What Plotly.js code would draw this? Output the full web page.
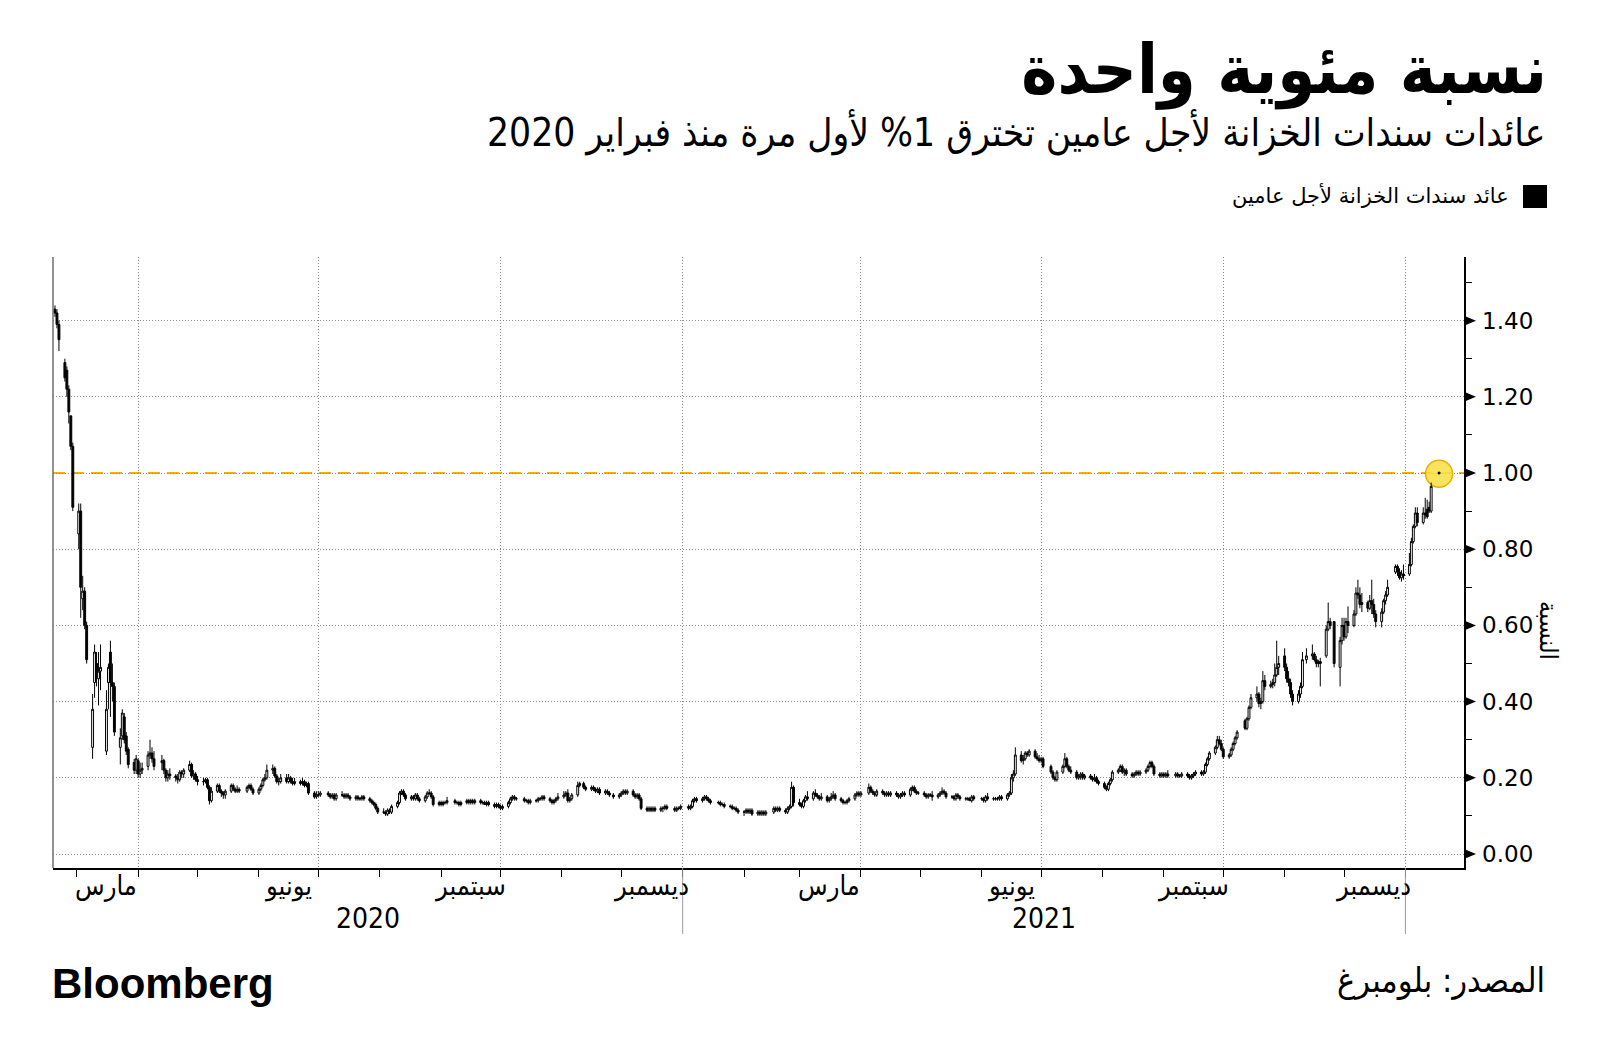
<!DOCTYPE html>
<html><head><meta charset="utf-8">
<script src="https://cdn.plot.ly/plotly-3.0.1.min.js"></script>
<style>html,body{margin:0;padding:0;background:#fff;}#chart{width:1600px;height:1061px;}</style>
</head><body><div id="chart"></div>
<script>
// ---------- DATA ----------
const dates = [
"2020-02-19","2020-02-20","2020-02-21","2020-02-24","2020-02-25","2020-02-26","2020-02-27","2020-02-28",
"2020-03-02","2020-03-03","2020-03-04","2020-03-05","2020-03-06","2020-03-09","2020-03-10","2020-03-11","2020-03-12","2020-03-13","2020-03-16","2020-03-17","2020-03-18","2020-03-19","2020-03-20","2020-03-23","2020-03-24","2020-03-25","2020-03-26","2020-03-27","2020-03-30","2020-03-31",
"2020-04-01","2020-04-02","2020-04-03","2020-04-06","2020-04-07","2020-04-08","2020-04-09","2020-04-13","2020-04-14","2020-04-15","2020-04-16","2020-04-17","2020-04-20","2020-04-21","2020-04-22","2020-04-23","2020-04-24","2020-04-27","2020-04-28","2020-04-29","2020-04-30",
"2020-05-01","2020-05-04","2020-05-05","2020-05-06","2020-05-07","2020-05-08","2020-05-11","2020-05-12","2020-05-13","2020-05-14","2020-05-15","2020-05-18","2020-05-19","2020-05-20","2020-05-21","2020-05-22","2020-05-26","2020-05-27","2020-05-28","2020-05-29",
"2020-06-01","2020-06-02","2020-06-03","2020-06-04","2020-06-05","2020-06-08","2020-06-09","2020-06-10","2020-06-11","2020-06-12","2020-06-15","2020-06-16","2020-06-17","2020-06-18","2020-06-19","2020-06-22","2020-06-23","2020-06-24","2020-06-25","2020-06-26","2020-06-29","2020-06-30",
"2020-07-01","2020-07-02","2020-07-06","2020-07-07","2020-07-08","2020-07-09","2020-07-10","2020-07-13","2020-07-14","2020-07-15","2020-07-16","2020-07-17","2020-07-20","2020-07-21","2020-07-22","2020-07-23","2020-07-24","2020-07-27","2020-07-28","2020-07-29","2020-07-30","2020-07-31",
"2020-08-03","2020-08-04","2020-08-05","2020-08-06","2020-08-07","2020-08-10","2020-08-11","2020-08-12","2020-08-13","2020-08-14","2020-08-17","2020-08-18","2020-08-19","2020-08-20","2020-08-21","2020-08-24","2020-08-25","2020-08-26","2020-08-27","2020-08-28","2020-08-31",
"2020-09-01","2020-09-02","2020-09-03","2020-09-04","2020-09-08","2020-09-09","2020-09-10","2020-09-11","2020-09-14","2020-09-15","2020-09-16","2020-09-17","2020-09-18","2020-09-21","2020-09-22","2020-09-23","2020-09-24","2020-09-25","2020-09-28","2020-09-29","2020-09-30",
"2020-10-01","2020-10-02","2020-10-05","2020-10-06","2020-10-07","2020-10-08","2020-10-09","2020-10-13","2020-10-14","2020-10-15","2020-10-16","2020-10-19","2020-10-20","2020-10-21","2020-10-22","2020-10-23","2020-10-26","2020-10-27","2020-10-28","2020-10-29","2020-10-30",
"2020-11-02","2020-11-03","2020-11-04","2020-11-05","2020-11-06","2020-11-09","2020-11-10","2020-11-12","2020-11-13","2020-11-16","2020-11-17","2020-11-18","2020-11-19","2020-11-20","2020-11-23","2020-11-24","2020-11-25","2020-11-27","2020-11-30",
"2020-12-01","2020-12-02","2020-12-03","2020-12-04","2020-12-07","2020-12-08","2020-12-09","2020-12-10","2020-12-11","2020-12-14","2020-12-15","2020-12-16","2020-12-17","2020-12-18","2020-12-21","2020-12-22","2020-12-23","2020-12-24","2020-12-28","2020-12-29","2020-12-30","2020-12-31",
"2021-01-04","2021-01-05","2021-01-06","2021-01-07","2021-01-08","2021-01-11","2021-01-12","2021-01-13","2021-01-14","2021-01-15","2021-01-19","2021-01-20","2021-01-21","2021-01-22","2021-01-25","2021-01-26","2021-01-27","2021-01-28","2021-01-29",
"2021-02-01","2021-02-02","2021-02-03","2021-02-04","2021-02-05","2021-02-08","2021-02-09","2021-02-10","2021-02-11","2021-02-12","2021-02-16","2021-02-17","2021-02-18","2021-02-19","2021-02-22","2021-02-23","2021-02-24","2021-02-25","2021-02-26",
"2021-03-01","2021-03-02","2021-03-03","2021-03-04","2021-03-05","2021-03-08","2021-03-09","2021-03-10","2021-03-11","2021-03-12","2021-03-15","2021-03-16","2021-03-17","2021-03-18","2021-03-19","2021-03-22","2021-03-23","2021-03-24","2021-03-25","2021-03-26","2021-03-29","2021-03-30","2021-03-31",
"2021-04-01","2021-04-05","2021-04-06","2021-04-07","2021-04-08","2021-04-09","2021-04-12","2021-04-13","2021-04-14","2021-04-15","2021-04-16","2021-04-19","2021-04-20","2021-04-21","2021-04-22","2021-04-23","2021-04-26","2021-04-27","2021-04-28","2021-04-29","2021-04-30",
"2021-05-03","2021-05-04","2021-05-05","2021-05-06","2021-05-07","2021-05-10","2021-05-11","2021-05-12","2021-05-13","2021-05-14","2021-05-17","2021-05-18","2021-05-19","2021-05-20","2021-05-21","2021-05-24","2021-05-25","2021-05-26","2021-05-27","2021-05-28",
"2021-06-01","2021-06-02","2021-06-03","2021-06-04","2021-06-07","2021-06-08","2021-06-09","2021-06-10","2021-06-11","2021-06-14","2021-06-15","2021-06-16","2021-06-17","2021-06-18","2021-06-21","2021-06-22","2021-06-23","2021-06-24","2021-06-25","2021-06-28","2021-06-29","2021-06-30",
"2021-07-01","2021-07-02","2021-07-06","2021-07-07","2021-07-08","2021-07-09","2021-07-12","2021-07-13","2021-07-14","2021-07-15","2021-07-16","2021-07-19","2021-07-20","2021-07-21","2021-07-22","2021-07-23","2021-07-26","2021-07-27","2021-07-28","2021-07-29","2021-07-30",
"2021-08-02","2021-08-03","2021-08-04","2021-08-05","2021-08-06","2021-08-09","2021-08-10","2021-08-11","2021-08-12","2021-08-13","2021-08-16","2021-08-17","2021-08-18","2021-08-19","2021-08-20","2021-08-23","2021-08-24","2021-08-25","2021-08-26","2021-08-27","2021-08-30","2021-08-31",
"2021-09-01","2021-09-02","2021-09-03","2021-09-07","2021-09-08","2021-09-09","2021-09-10","2021-09-13","2021-09-14","2021-09-15","2021-09-16","2021-09-17","2021-09-20","2021-09-21","2021-09-22","2021-09-23","2021-09-24","2021-09-27","2021-09-28","2021-09-29","2021-09-30",
"2021-10-01","2021-10-04","2021-10-05","2021-10-06","2021-10-07","2021-10-08","2021-10-12","2021-10-13","2021-10-14","2021-10-15","2021-10-18","2021-10-19","2021-10-20","2021-10-21","2021-10-22","2021-10-25","2021-10-26","2021-10-27","2021-10-28","2021-10-29",
"2021-11-01","2021-11-02","2021-11-03","2021-11-04","2021-11-05","2021-11-08","2021-11-09","2021-11-10","2021-11-12","2021-11-15","2021-11-16","2021-11-17","2021-11-18","2021-11-19","2021-11-22","2021-11-23","2021-11-24","2021-11-26","2021-11-29","2021-11-30",
"2021-12-01","2021-12-02","2021-12-03","2021-12-06","2021-12-07","2021-12-08","2021-12-09","2021-12-10","2021-12-13","2021-12-14","2021-12-15","2021-12-16","2021-12-17","2021-12-20","2021-12-21","2021-12-22","2021-12-23","2021-12-27","2021-12-28","2021-12-29","2021-12-30","2021-12-31",
"2022-01-03","2022-01-04","2022-01-05","2022-01-06","2022-01-07","2022-01-10","2022-01-11","2022-01-12","2022-01-13","2022-01-14","2022-01-18"
];
const open = [
1.43,1.42,1.39,1.29,1.27,1.22,1.15,1.07,
0.84,0.90,0.67,0.69,0.60,0.28,0.45,0.50,0.46,0.48,0.27,0.45,0.53,0.45,0.44,0.28,0.31,0.36,0.31,0.275,0.24,0.22,
0.245,0.21,0.22,0.23,0.26,0.265,0.25,0.24,0.245,0.22,0.20,0.21,0.205,0.20,0.195,0.215,0.21,0.22,0.235,0.205,0.21,
0.195,0.19,0.19,0.195,0.175,0.14,0.165,0.18,0.165,0.16,0.155,0.165,0.18,0.17,0.165,0.17,0.165,0.175,0.18,0.17,
0.16,0.17,0.18,0.195,0.20,0.22,0.225,0.205,0.19,0.19,0.20,0.19,0.20,0.19,0.185,0.19,0.185,0.19,0.18,0.185,0.16,0.15,
0.155,0.155,0.16,0.155,0.15,0.155,0.145,0.155,0.155,0.15,0.155,0.15,0.145,0.15,0.145,0.145,0.15,0.145,0.14,0.135,0.13,0.12,
0.11,0.11,0.105,0.115,0.11,0.125,0.135,0.16,0.165,0.155,0.145,0.15,0.145,0.155,0.145,0.14,0.15,0.16,0.16,0.15,0.13,
0.135,0.13,0.135,0.135,0.14,0.135,0.135,0.13,0.135,0.14,0.135,0.14,0.135,0.14,0.135,0.135,0.13,0.135,0.13,0.125,0.13,
0.125,0.12,0.125,0.135,0.145,0.15,0.145,0.145,0.14,0.14,0.135,0.14,0.14,0.145,0.145,0.15,0.145,0.14,0.135,0.14,0.145,
0.15,0.155,0.16,0.14,0.145,0.155,0.18,0.185,0.175,0.17,0.175,0.17,0.165,0.17,0.16,0.165,0.16,0.155,0.15,
0.155,0.16,0.165,0.16,0.165,0.155,0.15,0.155,0.145,0.12,0.115,0.12,0.115,0.12,0.115,0.12,0.12,0.125,0.12,0.115,0.12,0.12,
0.125,0.12,0.125,0.14,0.145,0.14,0.145,0.15,0.145,0.14,0.135,0.135,0.13,0.13,0.125,0.125,0.12,0.12,0.115,
0.11,0.11,0.115,0.11,0.115,0.105,0.11,0.105,0.11,0.105,0.11,0.12,0.115,0.12,0.115,0.11,0.12,0.125,0.175,
0.135,0.13,0.125,0.14,0.15,0.145,0.16,0.155,0.15,0.145,0.15,0.14,0.145,0.15,0.155,0.145,0.14,0.135,0.135,0.14,0.145,0.155,0.16,
0.155,0.16,0.175,0.165,0.16,0.155,0.165,0.16,0.155,0.16,0.155,0.16,0.155,0.15,0.155,0.16,0.155,0.17,0.175,0.165,0.16,
0.16,0.155,0.15,0.155,0.155,0.15,0.155,0.16,0.165,0.16,0.15,0.15,0.145,0.155,0.15,0.145,0.145,0.145,0.14,0.15,
0.145,0.145,0.14,0.15,0.145,0.145,0.145,0.145,0.15,0.145,0.155,0.16,0.20,0.21,0.26,0.245,0.25,0.265,0.26,0.27,0.255,0.25,
0.245,0.25,0.23,0.215,0.20,0.195,0.215,0.23,0.25,0.23,0.22,0.215,0.20,0.205,0.21,0.20,0.205,0.20,0.195,0.20,0.19,
0.185,0.175,0.17,0.185,0.195,0.215,0.22,0.23,0.215,0.22,0.21,0.205,0.21,0.215,0.21,0.215,0.22,0.23,0.24,0.23,0.21,0.205,
0.21,0.205,0.21,0.205,0.21,0.205,0.205,0.21,0.205,0.20,0.205,0.21,0.215,0.21,0.215,0.235,0.25,0.265,0.28,0.30,0.29,
0.275,0.255,0.26,0.275,0.29,0.305,0.35,0.33,0.355,0.385,0.41,0.42,0.395,0.40,0.455,0.44,0.445,0.45,0.47,0.49,
0.52,0.49,0.46,0.45,0.42,0.40,0.42,0.44,0.51,0.52,0.525,0.51,0.50,0.505,0.52,0.59,0.61,0.61,0.49,0.56,
0.60,0.57,0.61,0.60,0.63,0.685,0.68,0.655,0.66,0.645,0.665,0.655,0.63,0.61,0.635,0.665,0.68,0.74,0.755,0.74,0.725,0.735,
0.735,0.76,0.82,0.86,0.895,0.87,0.895,0.905,0.91,0.90,1.002
];
const high = [
1.44,1.43,1.40,1.30,1.28,1.23,1.15,1.08,
0.92,0.92,0.73,0.70,0.61,0.42,0.55,0.53,0.53,0.55,0.43,0.50,0.56,0.50,0.45,0.33,0.38,0.37,0.32,0.28,0.25,0.26,
0.25,0.24,0.24,0.27,0.30,0.28,0.27,0.26,0.25,0.225,0.22,0.225,0.21,0.21,0.22,0.22,0.225,0.245,0.24,0.22,0.215,
0.205,0.20,0.20,0.20,0.18,0.175,0.185,0.185,0.17,0.165,0.17,0.185,0.185,0.175,0.18,0.175,0.18,0.185,0.185,0.175,
0.175,0.185,0.20,0.21,0.235,0.235,0.23,0.21,0.20,0.21,0.21,0.21,0.205,0.20,0.20,0.195,0.20,0.195,0.19,0.19,0.165,0.165,
0.165,0.165,0.165,0.16,0.16,0.16,0.16,0.165,0.16,0.16,0.16,0.155,0.155,0.155,0.15,0.155,0.155,0.15,0.145,0.14,0.135,0.125,
0.12,0.115,0.12,0.12,0.13,0.14,0.165,0.17,0.17,0.16,0.155,0.155,0.16,0.16,0.15,0.155,0.165,0.17,0.165,0.155,0.14,
0.14,0.14,0.14,0.15,0.145,0.14,0.14,0.14,0.145,0.145,0.145,0.145,0.145,0.145,0.14,0.14,0.14,0.14,0.135,0.135,0.135,
0.13,0.13,0.14,0.15,0.155,0.155,0.15,0.15,0.145,0.145,0.145,0.145,0.15,0.15,0.155,0.155,0.15,0.145,0.145,0.15,0.16,
0.165,0.165,0.17,0.15,0.16,0.19,0.19,0.19,0.18,0.18,0.18,0.175,0.175,0.175,0.17,0.17,0.165,0.16,0.16,
0.165,0.17,0.17,0.17,0.17,0.16,0.16,0.16,0.15,0.125,0.125,0.125,0.125,0.125,0.125,0.125,0.13,0.13,0.125,0.125,0.125,0.13,
0.13,0.13,0.145,0.15,0.15,0.15,0.155,0.155,0.15,0.145,0.14,0.14,0.135,0.135,0.13,0.13,0.125,0.125,0.12,
0.115,0.12,0.12,0.12,0.12,0.115,0.115,0.115,0.115,0.115,0.125,0.125,0.125,0.125,0.12,0.125,0.13,0.19,0.18,
0.145,0.135,0.145,0.155,0.165,0.165,0.17,0.16,0.155,0.16,0.155,0.15,0.16,0.165,0.16,0.15,0.145,0.14,0.145,0.15,0.16,0.165,0.165,
0.165,0.185,0.18,0.17,0.165,0.17,0.17,0.165,0.165,0.165,0.165,0.165,0.16,0.16,0.165,0.165,0.175,0.18,0.18,0.17,0.165,
0.165,0.16,0.16,0.16,0.165,0.16,0.165,0.175,0.17,0.165,0.155,0.155,0.16,0.16,0.155,0.15,0.15,0.15,0.155,0.155,
0.15,0.15,0.155,0.16,0.15,0.15,0.15,0.155,0.155,0.16,0.165,0.21,0.22,0.28,0.27,0.26,0.27,0.27,0.275,0.275,0.265,0.26,
0.255,0.255,0.235,0.22,0.205,0.22,0.235,0.265,0.255,0.235,0.23,0.22,0.21,0.215,0.215,0.21,0.21,0.205,0.21,0.205,0.195,
0.19,0.18,0.19,0.20,0.22,0.225,0.235,0.235,0.225,0.225,0.215,0.215,0.22,0.22,0.22,0.225,0.235,0.245,0.245,0.235,0.215,0.215,
0.215,0.215,0.22,0.215,0.215,0.21,0.215,0.215,0.21,0.21,0.215,0.22,0.22,0.22,0.24,0.255,0.27,0.285,0.31,0.31,0.30,
0.28,0.265,0.28,0.295,0.31,0.325,0.355,0.36,0.39,0.42,0.44,0.425,0.41,0.48,0.47,0.455,0.46,0.50,0.56,0.52,
0.54,0.50,0.48,0.46,0.43,0.43,0.45,0.53,0.54,0.55,0.53,0.52,0.51,0.515,0.60,0.66,0.62,0.61,0.57,0.62,
0.62,0.62,0.65,0.64,0.70,0.72,0.70,0.685,0.665,0.68,0.72,0.67,0.64,0.645,0.67,0.69,0.72,0.76,0.76,0.75,0.745,0.76,
0.79,0.83,0.865,0.91,0.91,0.91,0.935,0.93,0.925,0.975,1.003
];
const low = [
1.41,1.38,1.32,1.24,1.20,1.13,1.06,0.90,
0.80,0.62,0.64,0.59,0.50,0.25,0.41,0.44,0.39,0.43,0.26,0.38,0.36,0.40,0.31,0.235,0.30,0.29,0.26,0.225,0.21,0.21,
0.20,0.20,0.21,0.22,0.25,0.24,0.22,0.22,0.21,0.19,0.19,0.195,0.19,0.185,0.19,0.20,0.20,0.215,0.20,0.195,0.19,
0.18,0.18,0.185,0.17,0.13,0.135,0.16,0.16,0.15,0.145,0.145,0.16,0.165,0.16,0.16,0.16,0.16,0.17,0.165,0.155,
0.155,0.165,0.175,0.19,0.195,0.21,0.20,0.185,0.18,0.185,0.185,0.185,0.185,0.18,0.18,0.18,0.18,0.175,0.175,0.155,0.145,0.145,
0.15,0.15,0.15,0.145,0.145,0.14,0.14,0.15,0.145,0.145,0.145,0.14,0.14,0.14,0.14,0.14,0.14,0.135,0.13,0.125,0.115,0.105,
0.105,0.10,0.10,0.105,0.105,0.12,0.13,0.155,0.15,0.14,0.14,0.14,0.14,0.14,0.135,0.135,0.145,0.155,0.145,0.125,0.125,
0.125,0.125,0.13,0.13,0.13,0.13,0.125,0.125,0.13,0.13,0.13,0.13,0.13,0.13,0.13,0.13,0.125,0.125,0.12,0.12,0.12,
0.115,0.115,0.12,0.13,0.14,0.14,0.14,0.135,0.135,0.13,0.13,0.135,0.135,0.14,0.14,0.14,0.135,0.13,0.13,0.135,0.14,
0.145,0.15,0.135,0.135,0.14,0.15,0.175,0.17,0.165,0.165,0.165,0.16,0.16,0.155,0.155,0.155,0.15,0.145,0.145,
0.15,0.155,0.155,0.155,0.15,0.145,0.145,0.14,0.115,0.11,0.11,0.11,0.11,0.11,0.11,0.11,0.115,0.115,0.11,0.11,0.115,0.115,
0.115,0.115,0.12,0.135,0.135,0.135,0.14,0.14,0.135,0.13,0.13,0.125,0.125,0.12,0.12,0.115,0.115,0.11,0.105,
0.10,0.105,0.105,0.105,0.10,0.10,0.10,0.10,0.10,0.10,0.105,0.11,0.11,0.11,0.105,0.105,0.115,0.12,0.125,
0.125,0.12,0.12,0.135,0.14,0.14,0.15,0.145,0.14,0.14,0.135,0.135,0.14,0.145,0.14,0.135,0.13,0.13,0.13,0.135,0.14,0.15,0.15,
0.15,0.155,0.16,0.155,0.15,0.15,0.155,0.15,0.15,0.15,0.15,0.15,0.145,0.145,0.15,0.15,0.15,0.165,0.16,0.155,0.155,
0.15,0.145,0.145,0.15,0.14,0.145,0.15,0.155,0.155,0.145,0.145,0.14,0.14,0.145,0.14,0.14,0.14,0.14,0.135,0.14,
0.14,0.135,0.135,0.14,0.14,0.14,0.14,0.14,0.14,0.14,0.15,0.155,0.19,0.205,0.24,0.235,0.245,0.255,0.255,0.25,0.245,0.24,
0.24,0.225,0.21,0.195,0.19,0.19,0.21,0.225,0.225,0.215,0.21,0.195,0.195,0.195,0.195,0.195,0.195,0.19,0.19,0.185,0.18,
0.17,0.165,0.165,0.18,0.19,0.21,0.215,0.21,0.205,0.205,0.20,0.20,0.205,0.205,0.205,0.21,0.215,0.225,0.225,0.205,0.20,0.20,
0.20,0.20,0.20,0.20,0.20,0.20,0.20,0.20,0.195,0.195,0.20,0.205,0.205,0.205,0.21,0.23,0.245,0.26,0.275,0.285,0.27,
0.25,0.25,0.255,0.27,0.285,0.30,0.325,0.325,0.35,0.38,0.40,0.385,0.38,0.395,0.43,0.435,0.435,0.44,0.465,0.47,
0.48,0.45,0.44,0.41,0.39,0.395,0.41,0.435,0.50,0.51,0.505,0.49,0.49,0.44,0.515,0.585,0.59,0.49,0.44,0.55,
0.56,0.565,0.58,0.595,0.625,0.67,0.645,0.635,0.635,0.64,0.63,0.62,0.595,0.595,0.63,0.655,0.675,0.735,0.73,0.72,0.715,0.72,
0.73,0.755,0.815,0.855,0.86,0.865,0.88,0.88,0.895,0.895,0.997
];
const close = [
1.42,1.39,1.35,1.25,1.22,1.16,1.07,0.91,
0.90,0.70,0.69,0.60,0.51,0.38,0.53,0.48,0.48,0.49,0.38,0.49,0.45,0.44,0.32,0.305,0.37,0.30,0.27,0.235,0.22,0.25,
0.21,0.22,0.225,0.26,0.265,0.25,0.23,0.245,0.22,0.20,0.21,0.205,0.20,0.195,0.215,0.21,0.22,0.235,0.205,0.21,0.195,
0.19,0.19,0.195,0.175,0.14,0.165,0.18,0.165,0.16,0.155,0.165,0.18,0.17,0.165,0.17,0.165,0.175,0.18,0.17,0.16,
0.17,0.18,0.195,0.20,0.22,0.225,0.205,0.19,0.19,0.20,0.19,0.20,0.19,0.185,0.19,0.185,0.19,0.18,0.185,0.16,0.15,0.155,
0.155,0.16,0.155,0.15,0.155,0.145,0.155,0.155,0.15,0.155,0.15,0.145,0.15,0.145,0.145,0.15,0.145,0.14,0.135,0.13,0.12,0.11,
0.11,0.105,0.115,0.11,0.125,0.135,0.16,0.165,0.155,0.145,0.15,0.145,0.155,0.145,0.14,0.15,0.16,0.16,0.15,0.13,0.135,
0.13,0.135,0.135,0.14,0.135,0.135,0.13,0.135,0.14,0.135,0.14,0.135,0.14,0.135,0.135,0.13,0.135,0.13,0.125,0.13,0.125,
0.12,0.125,0.135,0.145,0.15,0.145,0.145,0.14,0.14,0.135,0.14,0.14,0.145,0.145,0.15,0.145,0.14,0.135,0.14,0.145,0.15,
0.155,0.16,0.14,0.145,0.155,0.18,0.185,0.175,0.17,0.175,0.17,0.165,0.17,0.16,0.165,0.16,0.155,0.15,0.155,
0.16,0.165,0.16,0.165,0.155,0.15,0.155,0.145,0.12,0.115,0.12,0.115,0.12,0.115,0.12,0.12,0.125,0.12,0.115,0.12,0.12,0.125,
0.12,0.125,0.14,0.145,0.14,0.145,0.15,0.145,0.14,0.135,0.135,0.13,0.13,0.125,0.125,0.12,0.12,0.115,0.11,
0.11,0.115,0.11,0.115,0.105,0.11,0.105,0.11,0.105,0.11,0.12,0.115,0.12,0.115,0.11,0.12,0.125,0.175,0.135,
0.13,0.125,0.14,0.15,0.145,0.16,0.155,0.15,0.145,0.15,0.14,0.145,0.15,0.155,0.145,0.14,0.135,0.135,0.14,0.145,0.155,0.16,0.155,
0.16,0.175,0.165,0.16,0.155,0.165,0.16,0.155,0.16,0.155,0.16,0.155,0.15,0.155,0.16,0.155,0.17,0.175,0.165,0.16,0.16,
0.155,0.15,0.155,0.155,0.15,0.155,0.16,0.165,0.16,0.15,0.15,0.145,0.155,0.15,0.145,0.145,0.145,0.14,0.15,0.145,
0.145,0.14,0.15,0.145,0.145,0.145,0.145,0.15,0.145,0.155,0.16,0.20,0.21,0.26,0.245,0.25,0.265,0.26,0.27,0.255,0.25,0.245,
0.25,0.23,0.215,0.20,0.195,0.215,0.23,0.25,0.23,0.22,0.215,0.20,0.205,0.21,0.20,0.205,0.20,0.195,0.20,0.19,0.185,
0.175,0.17,0.185,0.195,0.215,0.22,0.23,0.215,0.22,0.21,0.205,0.21,0.215,0.21,0.215,0.22,0.23,0.24,0.23,0.21,0.205,0.21,
0.205,0.21,0.205,0.21,0.205,0.205,0.21,0.205,0.20,0.205,0.21,0.215,0.21,0.215,0.235,0.25,0.265,0.28,0.30,0.29,0.275,
0.255,0.26,0.275,0.29,0.305,0.32,0.33,0.355,0.385,0.41,0.42,0.395,0.40,0.455,0.44,0.445,0.45,0.47,0.49,0.50,
0.49,0.46,0.45,0.42,0.40,0.42,0.44,0.51,0.52,0.525,0.51,0.50,0.505,0.50,0.59,0.61,0.60,0.50,0.56,0.60,
0.57,0.61,0.60,0.63,0.685,0.68,0.655,0.66,0.645,0.665,0.655,0.63,0.61,0.635,0.665,0.68,0.70,0.755,0.74,0.725,0.735,0.73,
0.76,0.82,0.86,0.895,0.87,0.895,0.89,0.885,0.90,0.965,0.998
];

const yTickVals = [0, 0.2, 0.4, 0.6, 0.8, 1.0, 1.2, 1.4];
const yTickText = ["0.00", "0.20", "0.40", "0.60", "0.80", "1.00", "1.20", "1.40"];
const yMinorVals = [0.1, 0.3, 0.5, 0.7, 0.9, 1.1, 1.3, 1.5];
const gridDates = ["2020-04-01","2020-07-01","2020-10-01","2021-01-01","2021-04-01","2021-07-01","2021-10-01","2022-01-01"];
const monthLabels = ["مارس","يونيو","سبتمبر","ديسمبر","مارس","يونيو","سبتمبر","ديسمبر"];
const monthLabelDates = ["2020-03-16","2020-06-16","2020-09-16","2020-12-16","2021-03-16","2021-06-16","2021-09-16","2021-12-16"];
const yearLabels = ["2020", "2021"];
const yearStarts = ["2020-01-01", "2021-01-01", "2022-01-01"];
const thresholdValue = 1.0;

const titleText = "نسبة مئوية واحدة";
const subtitleText = "عائدات سندات الخزانة لأجل عامين تخترق 1% لأول مرة منذ فبراير 2020";
const legendText = "عائد سندات الخزانة لأجل عامين";
const yTitleText = "النسبة";
const sourceText = "المصدر: بلومبرغ";
const logoText = "Bloomberg";

// ---------- LAYOUT GEOMETRY ----------
const W = 1600, H = 1061;
const M = {l: 53, r: 136, t: 257, b: 193};
const PW = W - M.l - M.r, PH = H - M.t - M.b;
const px = x => (x - M.l) / PW;
const py = y => (H - M.b - y) / PH;
const xRange = ["2020-02-18 00:00", "2022-01-30 14:00"];
const yRange = [-0.0367, 1.567];
const yPerPx = (yRange[1] - yRange[0]) / PH;

const arFont = "DejaVu Sans, sans-serif";
const arFontC = "DejaVu Sans Condensed, DejaVu Sans, sans-serif";

const toMs = s => new Date(s.replace(" ", "T") + (s.length > 10 ? ":00Z" : "T00:00:00Z")).getTime();
const fromMs = ms => new Date(ms).toISOString().slice(0, 19).replace("T", " ");

const shapes = [];
shapes.push({type: "line", xref: "paper", yref: "paper", x0: 0, x1: 0, y0: 0, y1: 1, line: {color: "#6e6e6e", width: 1.5}});
const lastI = close.length - 1;
shapes.push({type: "circle", layer: "between", xref: "x", yref: "y", xsizemode: "pixel", ysizemode: "pixel",
  xanchor: dates[lastI], yanchor: close[lastI], x0: -13.5, x1: 13.5, y0: -13.5, y1: 13.5,
  fillcolor: "rgba(248,224,72,0.88)", line: {color: "#e5b300", width: 1.5}});
shapes.push({type: "line", layer: "between", xref: "paper", yref: "y", x0: 0, x1: 1, y0: thresholdValue, y1: thresholdValue,
  line: {color: "#f4b000", width: 2, dash: "12px,7px"}});
const triW = 12 / PW, triH = 5 * yPerPx;
yTickVals.forEach(v => shapes.push({type: "path", xref: "paper", yref: "y",
  path: `M 1,${v - triH} L ${1 + triW},${v} L 1,${v + triH} Z`, fillcolor: "#000", line: {width: 0}}));
yearStarts.slice(1).forEach(d => shapes.push({type: "line", xref: "x", yref: "paper", x0: d, x1: d, y0: 0, y1: py(934),
  line: {color: "#9a9a9a", width: 1}}));
shapes.push({type: "rect", xref: "paper", yref: "paper", x0: px(1523), x1: px(1547), y0: py(208), y1: py(185),
  fillcolor: "#000", line: {width: 0}});

const annotations = [];
annotations.push({text: subtitleText, xref: "paper", yref: "paper", x: px(1547), y: py(133), xanchor: "right", yanchor: "middle",
  showarrow: false, font: {family: arFontC, size: 38.6, color: "#000"}});
annotations.push({text: legendText, xref: "paper", yref: "paper", x: px(1511), y: py(195), xanchor: "right", yanchor: "middle",
  showarrow: false, font: {family: arFont, size: 21, color: "#000"}});
annotations.push({text: yTitleText, xref: "paper", yref: "paper", x: px(1549), y: py(630), xanchor: "center", yanchor: "middle",
  textangle: 90, showarrow: false, font: {family: arFontC, size: 25, color: "#000"}});
monthLabels.forEach((t, i) => annotations.push({text: t, xref: "x", yref: "paper", x: monthLabelDates[i], y: py(886),
  xanchor: "center", yanchor: "middle", showarrow: false, font: {family: arFontC, size: 27, color: "#000"}}));
const r0 = toMs(xRange[0]), r1 = toMs(xRange[1]);
yearLabels.forEach((t, i) => {
  const a = Math.max(r0, toMs(yearStarts[i])), b = Math.min(r1, toMs(yearStarts[i + 1]));
  annotations.push({text: t, xref: "x", yref: "paper", x: fromMs((a + b) / 2), y: py(918), xanchor: "center", yanchor: "middle",
    showarrow: false, font: {family: "Liberation Sans Narrow, DejaVu Sans Condensed, sans-serif", size: 28, color: "#000"}});
});
annotations.push({text: "<b>" + logoText + "</b>", xref: "paper", yref: "paper", x: px(50), y: py(983), xanchor: "left", yanchor: "middle",
  showarrow: false, font: {family: "Liberation Sans, Arial, sans-serif", size: 42, color: "#000"}});
annotations.push({text: sourceText, xref: "paper", yref: "paper", x: px(1547), y: py(980), xanchor: "right", yanchor: "middle",
  showarrow: false, font: {family: arFontC, size: 34, color: "#000"}});

const trace = {
  type: "candlestick", x: dates, open: open, high: high, low: low, close: close,
  increasing: {line: {color: "#000", width: 1}, fillcolor: "#ffffff"},
  decreasing: {line: {color: "#000", width: 1}, fillcolor: "#000000"},
  whiskerwidth: 0, hoverinfo: "skip", showlegend: false
};

const layout = {
  width: W, height: H, margin: M, paper_bgcolor: "#fff", plot_bgcolor: "#fff", showlegend: false,
  boxgap: 0.05, boxgroupgap: 0,
  title: {text: "<b>" + titleText + "</b>", xref: "container", yref: "container", x: 1547 / W, xanchor: "right",
    y: 1 - 69 / H, yanchor: "middle", font: {family: arFontC, size: 68, color: "#000"}},
  xaxis: {type: "date", range: xRange, rangeslider: {visible: false}, showline: true, linecolor: "#000", linewidth: 1.5,
    tickmode: "array", tickvals: gridDates, showticklabels: false, ticks: "outside", ticklen: 7, tickcolor: "#000", tickwidth: 1,
    showgrid: true, gridcolor: "#8c8c8c", gridwidth: 1, griddash: "1px,2px", zeroline: false,
    minor: {tickmode: "linear", tick0: "2020-01-01", dtick: "M1", ticks: "outside", ticklen: 7, tickcolor: "#000", tickwidth: 1, showgrid: false}},
  yaxis: {side: "right", range: yRange, showline: true, linecolor: "#000", linewidth: 1.5,
    tickmode: "array", tickvals: yTickVals, ticktext: yTickText, ticks: "outside", ticklen: 12, tickcolor: "rgba(0,0,0,0)",
    tickfont: {family: "DejaVu Sans, sans-serif", size: 23, color: "#000"},
    showgrid: true, gridcolor: "#8c8c8c", gridwidth: 1, griddash: "1px,2px", zeroline: false,
    minor: {tickmode: "array", tickvals: yMinorVals, ticks: "outside", ticklen: 6, tickcolor: "#000", tickwidth: 1, showgrid: false}},
  shapes: shapes, annotations: annotations
};

Plotly.newPlot("chart", [trace], layout, {staticPlot: true, displayModeBar: false});
</script></body></html>
